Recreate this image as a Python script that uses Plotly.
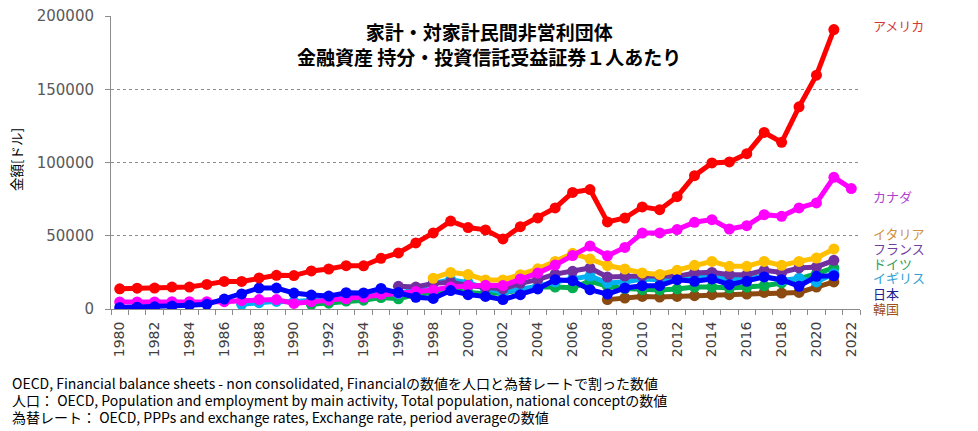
import plotly.graph_objects as go

years = list(range(1980, 2023))

usa = [13800, 14200, 14300, 15000, 15000, 16800, 18800, 18800, 21200, 23000,
       22800, 26000, 27300, 29600, 29500, 34600, 38300, 45100, 51900, 60000,
       55600, 54000, 47800, 56200, 62200, 69000, 79600, 81500, 59400, 62100,
       69700, 67800, 76700, 91000, 99700, 100400, 106000, 120500, 113800, 138000,
       159600, 190700, None]
canada = [4800, 4800, 4800, 5000, 5000, 5000, 5000, 5700, 6400, 6400,
          3800, 5000, 6000, 7000, 8000, 10000, 11000, 12000, 13000, 15000,
          16000, 16200, 16000, 20500, 24500, 30000, 36500, 43000, 36300, 42000,
          51800, 51900, 54200, 59200, 61000, 54600, 56900, 64400, 63300, 69000,
          72400, 89900, 82200]
italy = [None] * 18 + [21000, 25000, 23500, 19800, 19800, 23400, 27400, 32500,
                        38000, 34200, 29700, 27300, 24600, 23600, 26400, 29800,
                        32500, 29100, 29100, 32500, 29800, 32500, 34800, 41000, None]
france = [None] * 16 + [15500, 15000, 17500, 18300, 16000, 14500, 13700, 17500,
                         20000, 23800, 25700, 28000, 21800, 22500, 22500, 22500,
                         22300, 24600, 25000, 23400, 23400, 26400, 25000, 28000,
                         28700, 33200, None]
germany = [None] * 11 + [3200, 4000, 5400, 6000, 7800, 7000, 9800, 11300, 13200,
                          11300, 10500, 11000, 13200, 15000, 15000, 14500, 19000,
                          15500, 14000, 13200, 13000, 13700, 15000, 15000, 14300,
                          15000, 15900, 17800, 20500, 24100, 28000, None]
uk = [None] * 7 + [3200, 4300, 5200, 5000, 6000, 7500, 8500, 9000, 11000, 10500,
                   13500, 17500, 20000, 18000, 14000, 11500, 13500, 15500, 18500,
                   20500, 22500, 17800, 18500, 20500, 20000, 21200, 22300, 22000,
                   20000, 20500, 22300, 19500, 21000, 18500, 24100, None]
japan = [1000, 1200, 1500, 2000, 2600, 3200, 6800, 10300, 14300, 14300,
         10900, 9500, 8800, 11100, 11000, 14000, 11200, 8000, 7200, 12600,
         9800, 8600, 6400, 9800, 13700, 20000, 19300, 13200, 10200, 14300,
         15900, 15900, 20000, 18900, 20500, 16600, 18900, 21900, 20000, 15500,
         22300, 22700, None]
korea = [None] * 28 + [6400, 7500, 8600, 8200, 8600, 9100, 9800, 9800, 10200,
                        11300, 10900, 11300, 15000, 18500, None]

series = [
    ("韓国", korea, "#8B4A10"),
    ("ドイツ", germany, "#00B050"),
    ("イギリス", uk, "#00B0F0"),
    ("フランス", france, "#7030A0"),
    ("イタリア", italy, "#FFC000"),
    ("カナダ", canada, "#FF00FF"),
    ("日本", japan, "#0000FF"),
    ("アメリカ", usa, "#FF0000"),
]

label_specs = [
    ("アメリカ", "#D03838", 25),
    ("カナダ", "#B040D0", 196),
    ("イタリア", "#D09040", 233),
    ("フランス", "#7040A0", 248),
    ("ドイツ", "#30A060", 263),
    ("イギリス", "#30A0D0", 277),
    ("日本", "#202090", 293),
    ("韓国", "#A05020", 308),
]

y_ticks = [0, 50000, 100000, 150000, 200000]
x_tick_years = list(range(1980, 2023, 2))

title_text = "<b>家計・対家計民間非営利団体</b><br><b>金融資産 持分・投資信託受益証券１人あたり</b>"
y_title = "金額[ドル]"
notes = [
    "OECD, Financial balance sheets - non consolidated, Financialの数値を人口と為替レートで割った数値",
    "人口： OECD, Population and employment by main activity, Total population, national conceptの数値",
    "為替レート： OECD, PPPs and exchange rates, Exchange rate, period averageの数値",
]

JP = "Noto Sans CJK JP"

fig = go.Figure()
for name, vals, color in series:
    fig.add_trace(go.Scatter(
        x=years, y=vals, name=name, mode="lines+markers",
        line=dict(color=color, width=5),
        marker=dict(color=color, size=11),
        connectgaps=False, showlegend=False,
    ))

L, R, T, B = 111, 117.5, 16, 122
W, H = 978, 431
pw = W - L - R
ph = H - T - B

def px_x(x):
    return (x - L) / pw

def px_y(y):
    return (H - B - y) / ph

ann = []
ann.append(dict(text=title_text, x=px_x(489), y=px_y(44), xref="paper", yref="paper",
                xanchor="center", yanchor="middle", showarrow=False,
                font=dict(family=JP, size=19, color="#000000")))
for text, color, yp in label_specs:
    ann.append(dict(text=text, x=px_x(872), y=px_y(yp), xref="paper", yref="paper",
                    xanchor="left", yanchor="middle", showarrow=False,
                    font=dict(family=JP, size=13, color=color)))
ann.append(dict(text=y_title, x=px_x(16), y=px_y(160), xref="paper", yref="paper",
                xanchor="center", yanchor="middle", showarrow=False, textangle=-90,
                font=dict(family=JP, size=13.5, color="#000000")))
for i, t in enumerate(notes):
    ann.append(dict(text=t, x=px_x(10), y=px_y(383 + 17 * i), xref="paper", yref="paper",
                    xanchor="left", yanchor="middle", showarrow=False,
                    font=dict(family=JP, size=14, color="#000000")))

fig.update_layout(
    width=W, height=H,
    margin=dict(l=L, r=R, t=T, b=B, autoexpand=False),
    paper_bgcolor="white", plot_bgcolor="white",
    annotations=ann,
    xaxis=dict(
        range=[1979.5, 2022.5], tickmode="array", tickvals=x_tick_years,
        ticktext=[str(y) for y in x_tick_years], tickangle=-90,
        ticks="outside", ticklen=0, showgrid=False, zeroline=False,
        showline=True, linecolor="#8c8c8c", linewidth=1, automargin=False,
        tickfont=dict(family="DejaVu Sans", size=14, color="#404040"),
        ticklabelstandoff=6,
        minor=dict(tickmode="linear", tick0=1979.5, dtick=1, ticks="outside",
                   ticklen=5, tickcolor="#8c8c8c", showgrid=False),
    ),
    yaxis=dict(
        range=[0, 200000], tickmode="array", tickvals=y_ticks,
        ticktext=[str(v) for v in y_ticks],
        ticks="outside", ticklen=5, tickcolor="#8c8c8c",
        showgrid=True, gridcolor="#8c8c8c", gridwidth=1, griddash="dot",
        zeroline=False, showline=True, linecolor="#8c8c8c", linewidth=1,
        automargin=False,
        tickfont=dict(family="DejaVu Sans", size=15, color="#595959"),
        ticklabelstandoff=8,
    ),
)

fig.write_html("out.html", config={"displayModeBar": False},
               post_script="document.body.style.margin='0px';")
